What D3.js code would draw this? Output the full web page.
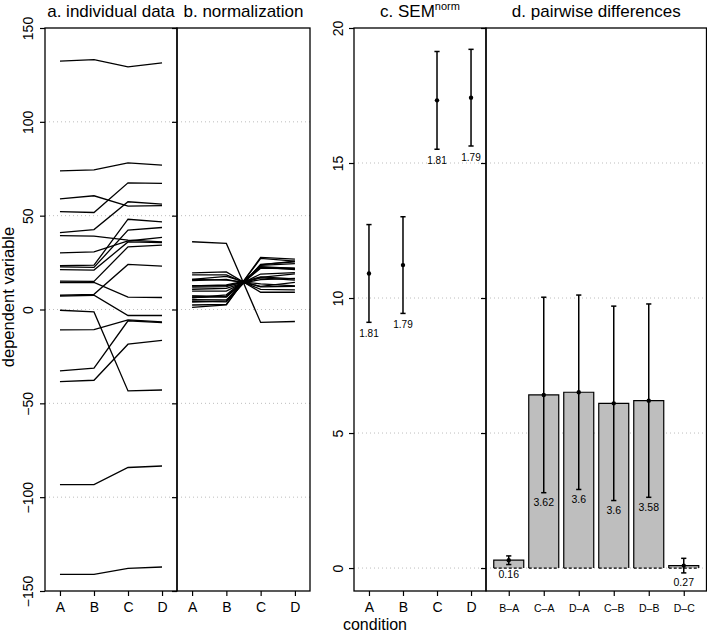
<!DOCTYPE html>
<html><head><meta charset="utf-8">
<script src="https://cdn.jsdelivr.net/npm/d3@7"></script>
<style>
body{margin:0;background:#fff}
svg{display:block}
text{font-family:"Liberation Sans",Arial,Helvetica,sans-serif;fill:#000}
</style>
</head><body>
<svg id="chart" width="707" height="631"></svg>
<script>
// ---------- data ----------
const conditions = ["A","B","C","D"];
const rawA = [132.4,73.9,59.0,52.2,41.0,39.4,30.2,23.3,22.7,21.3,15.1,14.4,7.6,7.1,-0.4,-10.9,-32.7,-38.4,-93.3,-141.1];
const rawB = [133.1,74.4,60.6,51.7,42.6,39.1,30.7,23.6,22.4,21.0,15.0,14.4,8.1,7.6,-1.3,-10.7,-31.3,-37.7,-93.3,-141.1];
const rawC = [129.3,78.1,55.1,67.5,57.4,37.0,36.5,48.1,42.3,36.0,33.4,6.6,24.0,-3.2,-43.4,-5.5,-6.0,-18.5,-84.2,-137.9];
const rawD = [131.4,76.9,55.4,67.2,56.1,36.0,38.4,46.7,43.7,35.7,34.3,6.4,23.1,-3.2,-42.9,-6.6,-7.0,-16.5,-83.4,-137.2];
const normA = [15.4,12.6,16.0,7.1,6.2,16.0,10.8,2.4,4.4,7.3,5.2,18.5,6.4,19.5,36.1,12.0,1.1,3.9,9.8,12.7];
const normB = [16.1,13.1,17.6,6.6,7.8,15.7,11.3,2.7,4.1,7.0,5.1,18.5,6.9,20.0,35.2,12.2,2.5,4.6,9.8,12.7];
const normC = [12.3,16.8,12.1,22.4,22.6,13.6,17.1,27.2,24.0,22.0,23.5,10.7,22.8,9.2,-6.9,17.4,27.8,23.8,18.9,15.9];
const normD = [14.4,15.6,12.4,22.1,21.3,12.6,19.0,25.8,25.4,21.7,24.4,10.5,21.9,9.2,-6.4,16.3,26.8,25.8,19.7,16.6];
const semMean = [10.91,11.22,17.32,17.42];
const semHalf = [1.81,1.79,1.81,1.79];
const semLabels = ["1.81","1.79","1.81","1.79"];
const diffNames = ["B\u2013A","C\u2013A","D\u2013A","C\u2013B","D\u2013B","D\u2013C"];
const diffMean = [0.29,6.41,6.51,6.10,6.20,0.09];
const diffHalf = [0.16,3.62,3.60,3.60,3.58,0.27];
const diffLabels = ["0.16","3.62","3.6","3.6","3.58","0.27"];
const ticksRaw = [-150,-100,-50,0,50,100,150];
const gridRaw = [-100,-50,0,50,100];
const ticksSem = [0,5,10,15,20];
const gridSem = [0,5,10,15];

// ---------- layout ----------
const svg = d3.select("#chart");
const plotTop = 28, plotBottom = 591;
const yA = d3.scaleLinear().domain([-150,150]).range([plotBottom, plotTop]);
const yC = d3.scaleLinear().domain([-0.85,20]).range([plotBottom, plotTop]);
const xa = d3.scaleLinear().domain([0.56,4.44]).range([45,177]);
const xb = d3.scaleLinear().domain([0.56,4.44]).range([177,310]);
const xc = d3.scaleLinear().domain([0.56,4.44]).range([354,486]);
const xd = d3.scaleLinear().domain([0.35,6.65]).range([486,706.5]);

function grid(x, y, vals){
  svg.append("g").selectAll("line").data(vals).join("line")
    .attr("x1", x.range()[0]).attr("x2", x.range()[1])
    .attr("y1", d=>y(d)).attr("y2", d=>y(d))
    .attr("stroke","#bdbdbd").attr("stroke-width",1).attr("stroke-dasharray","1,3");
}
grid(xa,yA,gridRaw); grid(xb,yA,gridRaw); grid(xc,yC,gridSem); grid(xd,yC,gridSem);

function yAxis(x, y, vals, labels, off){
  const g = svg.append("g").attr("transform",`translate(${x.range()[0]},0)`)
    .call(d3.axisLeft(y).tickValues(vals).tickSize(5).tickFormat(labels ? d3.format("d") : ""));
  g.select(".domain").remove();
  g.selectAll(".tick line").attr("stroke","#000").attr("stroke-width",1.2);
  g.selectAll(".tick text").attr("x",null).attr("dy",null).attr("y",null)
    .attr("text-anchor","middle").attr("transform",`translate(${-off},0) rotate(-90)`)
    .style("font-size","14px").style("font-family","'Liberation Sans',Arial,sans-serif");
}
yAxis(xa,yA,ticksRaw,true,12);
yAxis(xb,yA,ticksRaw,false,12);
yAxis(xc,yC,ticksSem,true,11.5);
yAxis(xd,yC,ticksSem,false,11.5);

function xAxis(x, n, names, fs, pad){
  const g = svg.append("g").attr("transform",`translate(0,${plotBottom})`)
    .call(d3.axisBottom(x).tickValues(d3.range(1,n+1)).tickSize(5).tickPadding(pad)
      .tickFormat(i=>names[i-1]));
  g.select(".domain").remove();
  g.selectAll(".tick line").attr("stroke","#000").attr("stroke-width",1.2);
  g.selectAll(".tick text").style("font-size",fs+"px")
    .style("font-family","'Liberation Sans',Arial,sans-serif");
}
xAxis(xa,4,conditions,14,6);
xAxis(xb,4,conditions,14,6);
xAxis(xc,4,conditions,14,6);
xAxis(xd,6,diffNames,10.5,9);

// ---------- panel a & b lines ----------
const line = d3.line();
function drawLines(x, cols){
  svg.append("g").selectAll("path").data(d3.range(cols[0].length)).join("path")
    .attr("d", i=>line(cols.map((c,k)=>[x(k+1), yA(c[i])])))
    .attr("fill","none").attr("stroke","#000").attr("stroke-width",1.3);
}
drawLines(xa,[rawA,rawB,rawC,rawD]);
drawLines(xb,[normA,normB,normC,normD]);

// ---------- panel d bars ----------
const bw = 30;
const gd = svg.append("g");
diffMean.forEach((m,i)=>{
  const cx = xd(i+1), x0 = cx-bw/2, x1 = cx+bw/2, y0 = yC(0), y1 = yC(m);
  gd.append("rect").attr("x",x0).attr("y",Math.min(y0,y1)).attr("width",bw)
    .attr("height",Math.abs(y0-y1)).attr("fill","#bebebe");
  gd.append("path").attr("d",`M${x0},${y0}V${y1}H${x1}V${y0}`)
    .attr("fill","none").attr("stroke","#000").attr("stroke-width",1.2);
  gd.append("line").attr("x1",x0).attr("x2",x1).attr("y1",y0).attr("y2",y0)
    .attr("stroke","#000").attr("stroke-width",1.2).attr("stroke-dasharray","3,2");
});

// ---------- error bars ----------
function errBars(x, means, halfs, labels, fs, lo){
  const g = svg.append("g");
  means.forEach((m,i)=>{
    const cx = x(i+1), yt = yC(m+halfs[i]), yb = yC(m-halfs[i]);
    g.append("line").attr("x1",cx).attr("x2",cx).attr("y1",yt).attr("y2",yb)
      .attr("stroke","#000").attr("stroke-width",1.5);
    [yt,yb].forEach(yy=>g.append("line").attr("x1",cx-2.6).attr("x2",cx+2.6)
      .attr("y1",yy).attr("y2",yy).attr("stroke","#000").attr("stroke-width",1.5));
    g.append("circle").attr("cx",cx).attr("cy",yC(m)).attr("r",2.2).attr("fill","#000");
    g.append("text").attr("x",cx).attr("y",yb+lo).attr("text-anchor","middle")
      .style("font-size",fs+"px").text(labels[i]);
  });
}
errBars(xc, semMean, semHalf, semLabels, 10, 14.5);
errBars(xd, diffMean, diffHalf, diffLabels, 10.5, 13.5);

// ---------- frames ----------
[xa,xb,xc,xd].forEach(x=>{
  svg.append("rect").attr("x",x.range()[0]).attr("y",plotTop)
    .attr("width",x.range()[1]-x.range()[0]).attr("height",plotBottom-plotTop)
    .attr("fill","none").attr("stroke","#000").attr("stroke-width",1.3);
});

// ---------- titles ----------
function title(x, txt){
  return svg.append("text").attr("x",(x.range()[0]+x.range()[1])/2).attr("y",16.5)
    .attr("text-anchor","middle").style("font-size","17px").text(txt);
}
title(xa,"a. individual data");
title(xb,"b. normalization");
const tc = title(xc,"c. SEM");
tc.append("tspan").attr("dy",-6.5).style("font-size","11px").text("norm");
title(xd,"d. pairwise differences");

svg.append("text").attr("transform","translate(14,297) rotate(-90)")
  .attr("text-anchor","middle").style("font-size","16.5px").text("dependent variable");
svg.append("text").attr("x",375).attr("y",629.5).attr("text-anchor","middle")
  .style("font-size","16px").text("condition");
</script>
</body></html>
